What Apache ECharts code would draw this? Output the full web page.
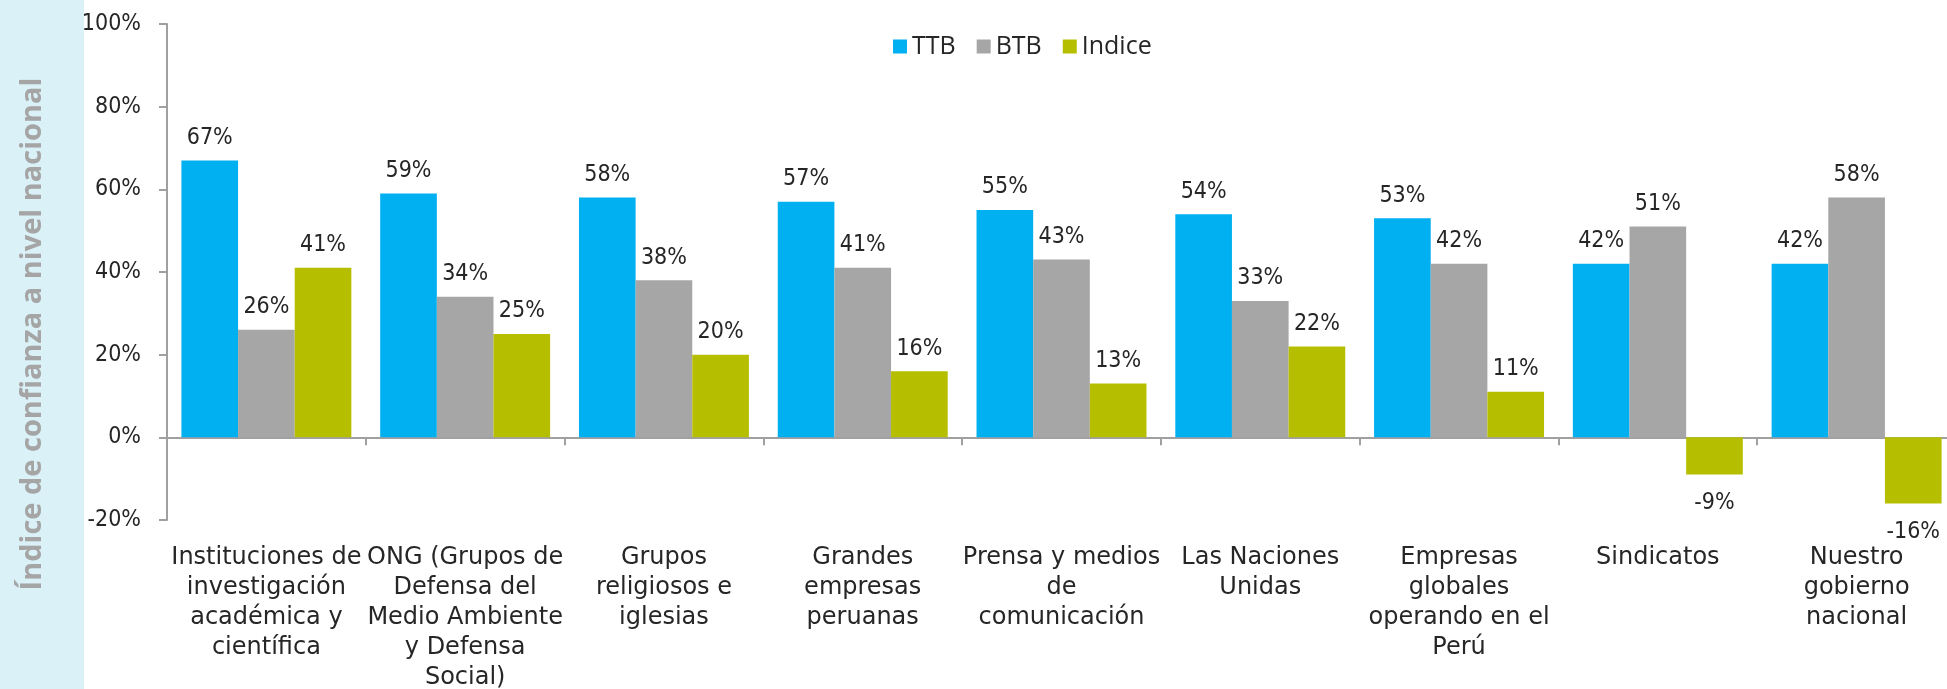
<!DOCTYPE html>
<html>
<head>
<meta charset="utf-8">
<script src="https://cdn.jsdelivr.net/npm/echarts@6/dist/echarts.min.js"></script>
<style>
  html, body { margin: 0; padding: 0; background: #fff; }
  #chart { width: 1947px; height: 689px; }
</style>
</head>
<body>
<div id="chart"></div>
<script>
// Chart data
const categories = [
  "Instituciones de\ninvestigación\nacadémica y\ncientífica",
  "ONG (Grupos de\nDefensa del\nMedio Ambiente\ny Defensa\nSocial)",
  "Grupos\nreligiosos e\niglesias",
  "Grandes\nempresas\nperuanas",
  "Prensa y medios\nde\ncomunicación",
  "Las Naciones\nUnidas",
  "Empresas\nglobales\noperando en el\nPerú",
  "Sindicatos",
  "Nuestro\ngobierno\nnacional"
];
const ttb = [67, 59, 58, 57, 55, 54, 53, 42, 42];
const btb = [26, 34, 38, 41, 43, 33, 42, 51, 58];
const indice = [41, 25, 20, 16, 13, 22, 11, -9, -16];

const seriesNames = ["TTB", "BTB", "Indice"];
const seriesColors = ["#00b0f0", "#a6a6a6", "#b5bf00"];

const labelFont = "'DejaVu Sans Condensed', sans-serif";

// Negative bars get their label underneath
const toData = (values) =>
  values.map((v) => (v < 0 ? { value: v, label: { position: "bottom", distance: 17 } } : v));

const makeSeries = (name, values, color) => ({
  name: name,
  type: "bar",
  xAxisIndex: 0,
  barGap: "0%",
  barCategoryGap: "14.5%",
  itemStyle: { color: color },
  label: {
    show: true,
    position: "top",
    distance: 11,
    formatter: (p) => Math.round(p.value) + "%",
    fontFamily: labelFont,
    fontSize: 23,
    color: "#262626"
  },
  data: toData(values)
});

const chartDom = document.getElementById("chart");
const myChart = echarts.init(chartDom);

const option = {
  animation: false,
  backgroundColor: "#ffffff",
  grid: {
    left: 167,
    right: -9,
    top: 24,
    bottom: 169,
    containLabel: false,
    outerBoundsMode: "none"
  },
  legend: {
    left: 893,
    top: 34,
    padding: 0,
    itemWidth: 14,
    itemHeight: 14,
    itemGap: 21,
    icon: "rect",
    textStyle: { fontFamily: "'Open Sans', sans-serif", fontSize: 25, color: "#262626" },
    data: seriesNames
  },
  graphic: [
    {
      type: "rect",
      left: 0,
      top: 0,
      z: -10,
      shape: { width: 84, height: 689 },
      style: { fill: "#daf1f8" }
    },
    {
      type: "text",
      x: 33,
      y: 334,
      rotation: Math.PI / 2,
      style: {
        text: "Índice de confianza a nivel nacional",
        fontFamily: "'Open Sans', sans-serif",
        fontSize: 29,
        fontWeight: "bold",
        fill: "#a5a5a5",
        align: "center",
        verticalAlign: "middle"
      }
    }
  ],
  xAxis: [
    {
      type: "category",
      data: categories,
      position: "bottom",
      axisLine: { show: false, onZero: false },
      axisTick: { show: false },
      axisLabel: {
        interval: 0,
        margin: 23,
        fontFamily: "'DejaVu Sans', sans-serif",
        fontSize: 24,
        lineHeight: 30,
        color: "#262626",
        align: "center",
        verticalAlign: "top"
      }
    },
    {
      type: "category",
      data: categories,
      position: "bottom",
      axisLine: { show: true, onZero: true, lineStyle: { color: "#a0a0a0", width: 2 } },
      axisTick: { show: true, length: 8, lineStyle: { color: "#a0a0a0", width: 2 } },
      axisLabel: { show: false }
    }
  ],
  yAxis: {
    type: "value",
    min: -20,
    max: 100,
    interval: 20,
    splitLine: { show: false },
    axisLine: { show: true, lineStyle: { color: "#a0a0a0", width: 2 } },
    axisTick: { show: true, length: 8, lineStyle: { color: "#a0a0a0", width: 2 } },
    axisLabel: {
      margin: 26,
      formatter: "{value}%",
      fontFamily: labelFont,
      fontSize: 23,
      color: "#262626"
    }
  },
  series: [
    makeSeries(seriesNames[0], ttb, seriesColors[0]),
    makeSeries(seriesNames[1], btb, seriesColors[1]),
    makeSeries(seriesNames[2], indice, seriesColors[2])
  ]
};

myChart.setOption(option);
window.addEventListener("resize", () => myChart.resize());
</script>
</body>
</html>
